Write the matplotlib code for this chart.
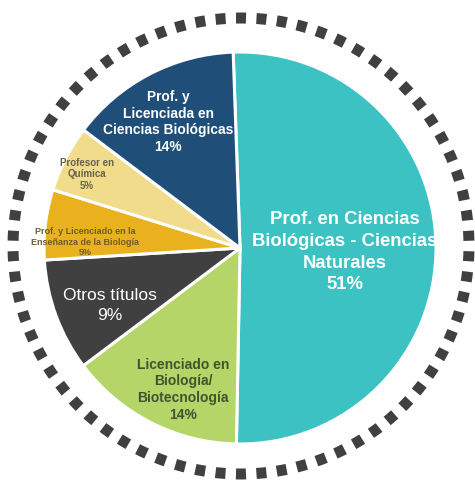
import numpy as np
import matplotlib
matplotlib.use("Agg")
import matplotlib.pyplot as plt

plt.rcParams['font.family'] = ['Liberation Sans', 'DejaVu Sans']

# ---- data ----
categories = [
    "Prof. en Ciencias\nBiológicas - Ciencias\nNaturales",
    "Licenciado en\nBiología/\nBiotecnología",
    "Otros títulos",
    "Prof. y Licenciado en la\nEnseñanza de la Biología",
    "Profesor en\nQuímica",
    "Prof. y\nLicenciada en\nCiencias Biológicas",
]
values = [51, 14.5, 9.3, 5.8, 5.5, 14.2]
pct_labels = ["51%", "14%", "9%", "5%", "5%", "14%"]

# ---- styles ----
colors = ["#3DC2C3", "#B5D568", "#404040", "#EAB11E", "#F1DC8C", "#1F4E79"]
text_colors = ["white", "#3F5530", "white", "#6E5E2A", "#67614C", "white"]
font_sizes = [13.3, 10.0, 12.5, 6.5, 7.0, 9.9]
weights = ["bold", "bold", "normal", "bold", "bold", "bold"]
line_sp = [1.38, 1.26, 1.42, 1.25, 1.2, 1.24]
label_dist = [0.536, 0.78, 0.724, 0.79, 0.867, 0.74]
angle_adj = [-2.7, 5.2, 3.5, 4.7, 1.4, 2.2]

W, H = 475, 482
fig = plt.figure(figsize=(W / 100, H / 100), dpi=100)
ax = fig.add_axes([0, 0, 1, 1])

cx, cy, R = 240, H - 248, 196

wedges, _ = ax.pie(values, colors=colors, startangle=92, counterclock=False,
                   center=(cx, cy), radius=R,
                   wedgeprops=dict(edgecolor='white', linewidth=2.2))
ax.set_xlim(0, W)
ax.set_ylim(0, H)
ax.set_aspect('equal')
ax.axis('off')

for w, cat, pct, tc, fs, wt, ls, d, adj in zip(wedges, categories, pct_labels, text_colors,
                                            font_sizes, weights, line_sp, label_dist, angle_adj):
    mid = np.deg2rad((w.theta1 + w.theta2) / 2 + adj)
    x = cx + d * R * np.cos(mid)
    y = cy + d * R * np.sin(mid)
    ax.text(x, y, cat + "\n" + pct, ha='center', va='center', color=tc,
            fontsize=fs, fontweight=wt, linespacing=ls)

# ---- dashed decorative ring ----
Rr = 228
rcx, rcy = 241, H - 246
n_dash = 70
lw_px = 11.0
dash_px = 10.0
period_px = 2 * np.pi * Rr / n_dash
px2pt = 72 / 100
lw_pt = lw_px * px2pt
on = dash_px / lw_px
off = (period_px - dash_px) / lw_px
start = np.pi / 2 + (dash_px / 2) / Rr
th = np.linspace(start, start - 2 * np.pi, 2000)
ax.plot(rcx + Rr * np.cos(th), rcy + Rr * np.sin(th), color="#404040",
        linewidth=lw_pt, linestyle=(0, (on, off)), solid_capstyle='butt',
        dash_capstyle='butt')

fig.savefig("out.png", dpi=100, facecolor='white')
